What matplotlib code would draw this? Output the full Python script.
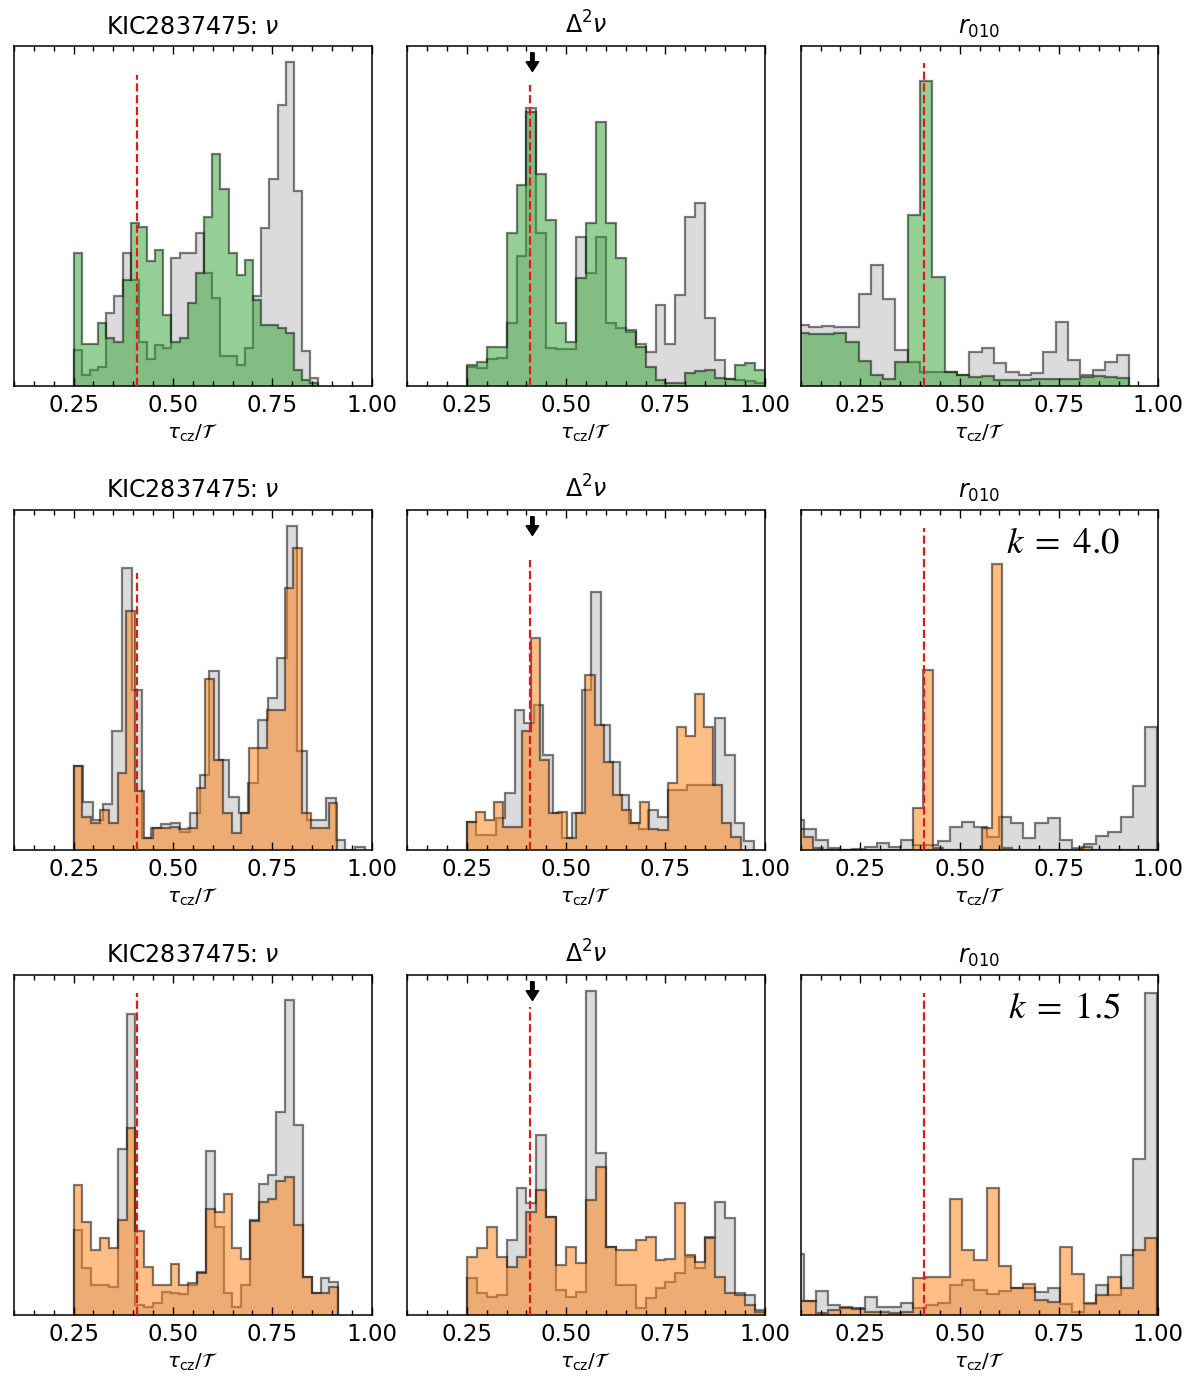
import numpy as np
import matplotlib.pyplot as plt
from matplotlib.colors import to_rgba
from matplotlib.ticker import MultipleLocator

# heights, in percent of the panel height
# row 1: green histograms
nu_grey_1 = [10.6, 3.2, 4.7, 5.7, 21.6, 26.5, 39.2, 31.2, 13.0, 7.8, 12.1, 11.1, 37.7, 39.0, 39.2,
             44.9, 33.1, 25.8, 8.8, 8.8, 6.2, 11.1, 26.5, 46.6, 60.8, 82.6, 95.4, 57.5, 10.4, 2.5]
nu_green_1 = [39.2, 12.3, 12.3, 18.6, 14.0, 13.0, 31.2, 48.0, 46.9, 36.9, 40.0, 20.9, 13.0, 14.0, 24.3,
              33.3, 49.6, 68.2, 57.8, 39.0, 32.6, 37.1, 25.3, 17.9, 17.9, 17.0, 15.5, 4.7, 1.8, 0.8]
d2_grey_1 = [5.7, 5.2, 7.8, 8.1, 18.4, 38.2, 81.7, 44.9, 11.1, 10.8, 10.8, 43.9, 33.1, 43.9, 18.4,
             17.0, 16.0, 12.5, 10.1, 23.8, 12.5, 26.8, 49.8, 53.7, 19.9, 7.6, 2.0, 1.8, 1.5, 0.8]
d2_green_1 = [6.2, 7.2, 11.6, 11.6, 44.9, 59.1, 80.5, 62.5, 48.8, 18.6, 13.0, 31.7, 47.8, 77.7, 47.8,
              37.7, 16.5, 11.6, 5.7, 1.8, 0.8, 0.8, 3.9, 4.5, 4.7, 2.3, 2.0, 6.2, 6.9, 4.7]
r_grey_1 = [17.9, 17.5, 17.6, 17.5, 17.5, 27.0, 35.6, 25.6, 10.6, 7.2, 4.2, 4.2, 4.2, 3.2,
            10.1, 11.1, 6.7, 4.2, 3.2, 3.7, 10.1, 18.9, 7.6, 3.2, 4.7, 7.2, 9.1]
r_green_1 = [15.5, 15.2, 15.2, 15.5, 13.0, 7.4, 3.2, 2.0, 7.2, 50.3, 89.7, 32.2, 4.2, 3.2,
             2.7, 2.9, 1.8, 1.8, 1.8, 2.1, 2.1, 2.0, 2.0, 2.7, 2.9, 2.7, 2.5]

# row 2: k = 4.0
nu_grey_2 = [24.8, 14.0, 8.8, 13.5, 34.9, 82.8, 47.2, 3.4, 6.4, 7.7, 7.9, 5.4, 10.8, 22.1, 52.6,
             26.5, 15.7, 10.8, 19.6, 38.3, 44.7, 56.5, 95.3, 29.0, 8.8, 8.8, 15.2, 2.9, 0.0, 1.0]
nu_orange_2 = [24.8, 9.8, 7.9, 11.8, 7.9, 22.6, 70.2, 17.4, 3.4, 6.4, 6.4, 6.9, 6.1, 6.4, 18.2,
               50.3, 26.5, 10.8, 4.9, 10.8, 30.0, 30.0, 41.3, 41.3, 77.1, 88.9, 10.8, 6.4, 6.4, 13.8]
d2_grey_2 = [8.3, 4.4, 4.4, 9.3, 16.7, 41.3, 37.3, 42.7, 28.0, 10.8, 3.4, 10.8, 47.2, 75.8, 36.8,
             26.0, 16.2, 7.9, 6.1, 11.8, 9.8, 17.7, 17.7, 19.2, 19.2, 19.2, 38.8, 28.0, 7.9, 2.5]
d2_orange_2 = [8.3, 11.3, 8.8, 14.2, 6.9, 6.9, 34.9, 62.4, 26.5, 10.8, 11.3, 3.4, 10.8, 51.6, 36.8,
               26.0, 16.2, 11.8, 7.9, 14.2, 6.1, 5.9, 19.6, 36.3, 33.4, 45.9, 36.1, 19.2, 7.9, 3.9]
r_grey_2 = [8.8, 6.1, 2.8, 0.5, 0.0, 0.2, 0.8, 2.0, 0.8, 2.9, 1.5, 1.5, 2.5, 6.9, 8.3,
            6.9, 3.9, 9.8, 7.9, 3.4, 7.9, 9.3, 2.8, 0.5, 1.8, 4.1, 5.4, 9.8, 18.7, 36.3]
r_orange_2 = [6.1, 3.9, 0.5, 0, 0, 0, 0, 0, 0, 0, 0, 0, 12.3, 53.0, 0.5, 0, 0, 0, 0,
              6.4, 84.0, 0.7, 0, 0, 0, 0, 0, 0, 0, 1.0, 0, 0, 0, 0, 0, 0, 0]

# row 3: k = 1.5
nu_grey_3 = [24.9, 13.7, 8.8, 8.8, 8.3, 48.9, 88.6, 2.9, 2.4, 3.4, 6.8, 6.4, 6.1, 8.8, 12.7,
             48.1, 25.9, 6.4, 2.2, 8.8, 27.9, 38.6, 41.3, 59.7, 92.5, 55.8, 11.3, 6.4, 10.8, 9.8]
nu_orange_3 = [38.2, 27.4, 19.1, 22.5, 19.6, 27.9, 55.0, 24.7, 14.2, 8.8, 8.8, 14.9, 8.8, 9.3, 12.2,
               31.3, 30.3, 35.7, 19.6, 16.4, 27.6, 33.3, 34.2, 39.3, 40.6, 26.4, 11.3, 6.4, 6.4, 8.3]
d2_grey_3 = [10.8, 6.4, 5.4, 5.9, 22.0, 37.2, 32.8, 52.8, 28.9, 7.3, 5.4, 6.8, 95.4, 47.6, 20.1,
             8.8, 8.8, 2.0, 4.9, 7.8, 9.8, 12.2, 17.1, 13.7, 23.0, 33.3, 28.4, 6.4, 5.9, 1.5]
d2_orange_3 = [17.1, 19.6, 25.9, 17.1, 14.2, 17.1, 30.3, 36.7, 28.9, 14.7, 20.1, 15.2, 33.8, 43.5, 20.1,
               19.1, 19.1, 22.0, 23.0, 16.1, 16.6, 32.8, 17.6, 15.7, 22.5, 11.3, 6.4, 5.9, 2.9, 1.0]
r_grey_3 = [17.8, 4.1, 7.0, 2.9, 2.4, 2.0, 5.4, 2.4, 2.4, 3.4, 2.0, 2.9, 3.4, 8.8, 10.3,
            7.3, 6.1, 7.0, 7.8, 7.8, 6.8, 8.0, 3.1, 1.0, 3.1, 8.8, 5.9, 17.6, 45.8, 94.6]
r_orange_3 = [4.1, 4.1, 0.5, 1.5, 2.0, 1.8, 1.0, 1.0, 0.5, 1.0, 10.8, 11.3, 11.1, 34.2, 19.1,
              16.1, 37.4, 14.4, 8.0, 9.0, 4.4, 3.9, 20.1, 11.9, 3.4, 5.9, 11.3, 7.8, 19.1, 22.5]

# bin ranges (first edge, last edge) of each histogram
rng_nu_1 = (0.25, 0.866)
rng_d2 = (0.25, 1.0)
rng_r_1 = (0.0905, 0.9275)
rng_nu_grey_2, rng_nu_orange_2 = (0.25, 0.983), (0.25, 0.914)
rng_d2_grey_2, rng_d2_orange_2 = (0.25, 0.972), (0.25, 0.939)
rng_r_grey = (0.0765, 0.9975)
rng_r_orange_2 = (0.082, 1.007)
rng_nu_3 = (0.25, 0.916)

tau_ref = 0.41        # red dashed line
tau_arrow = 0.415     # black arrow in the second-difference panels

titles = ['KIC2837475: $\\nu$', r'$\Delta^2\nu$', r'$r_{010}$']
k_labels = [None, r'$k\;=\;4.0$', r'$k\;=\;1.5$']
colours = ['C2', 'C1', 'C1']

rows = [
    [(nu_grey_1, rng_nu_1, nu_green_1, rng_nu_1, 0.915),
     (d2_grey_1, rng_d2, d2_green_1, rng_d2, 0.885),
     (r_grey_1, rng_r_1, r_green_1, rng_r_1, 0.949)],
    [(nu_grey_2, rng_nu_grey_2, nu_orange_2, rng_nu_orange_2, 0.815),
     (d2_grey_2, rng_d2_grey_2, d2_orange_2, rng_d2_orange_2, 0.853),
     (r_grey_2, rng_r_grey, r_orange_2, rng_r_orange_2, 0.948)],
    [(nu_grey_3, rng_nu_3, nu_orange_3, rng_nu_3, 0.947),
     (d2_grey_3, rng_d2, d2_orange_3, rng_d2, 0.905),
     (r_grey_3, rng_r_grey, r_orange_3, rng_r_grey, 0.947)],
]

plt.rcParams['font.size'] = 16.5

fig = plt.figure(figsize=(12, 13.9), dpi=100)
lefts = [0.0117, 0.3394, 0.6673]
bottoms = [0.7223, 0.3885, 0.0540]
w, h = 0.2979, 0.2446

for i, row in enumerate(rows):
    for j, (grey, grng, col, crng, ytop) in enumerate(row):
        ax = fig.add_axes([lefts[j], bottoms[i], w, h])

        e_grey = np.linspace(grng[0], grng[1], len(grey) + 1)
        e_col = np.linspace(crng[0], crng[1], len(col) + 1)
        ax.stairs(grey, e_grey, fill=True, facecolor=(0.5, 0.5, 0.5, 0.28),
                  edgecolor=(0, 0, 0, 0.5), linewidth=1.6)
        ax.stairs(col, e_col, fill=True, facecolor=to_rgba(colours[i], 0.5),
                  edgecolor=(0, 0, 0, 0.5), linewidth=1.6)

        ax.axvline(tau_ref, ymax=ytop, color='#e0191b', ls='--', lw=1.6, zorder=3)

        if j == 1:
            ax.annotate('', xy=(tau_arrow, 0.925), xytext=(tau_arrow, 0.98),
                        xycoords=('data', 'axes fraction'),
                        arrowprops=dict(facecolor='black', edgecolor='black',
                                        width=2.5, headwidth=9, headlength=7, shrink=0))
        if j == 2 and k_labels[i]:
            ax.text(0.894, 0.905, k_labels[i], transform=ax.transAxes, ha='right',
                    va='center', fontsize=26.5, math_fontfamily='stix')

        ax.set_xlim(0.1, 1.0)
        ax.set_ylim(0, 100)
        ax.set_yticks([])
        ax.xaxis.set_major_locator(MultipleLocator(0.25))
        ax.xaxis.set_minor_locator(MultipleLocator(0.05))
        ax.tick_params(which='both', direction='in', top=True, bottom=True, width=1.0)
        ax.tick_params(which='major', length=6, pad=6)
        ax.tick_params(which='minor', length=3.5)
        for s in ax.spines.values():
            s.set_linewidth(1.1)
        ax.set_title(titles[j], pad=9, fontsize=17)
        ax.set_xlabel(r'$\tau_{\rm cz}/\mathcal{T}$', labelpad=3, fontsize=14.5)

fig.savefig('out.png', dpi=100)
